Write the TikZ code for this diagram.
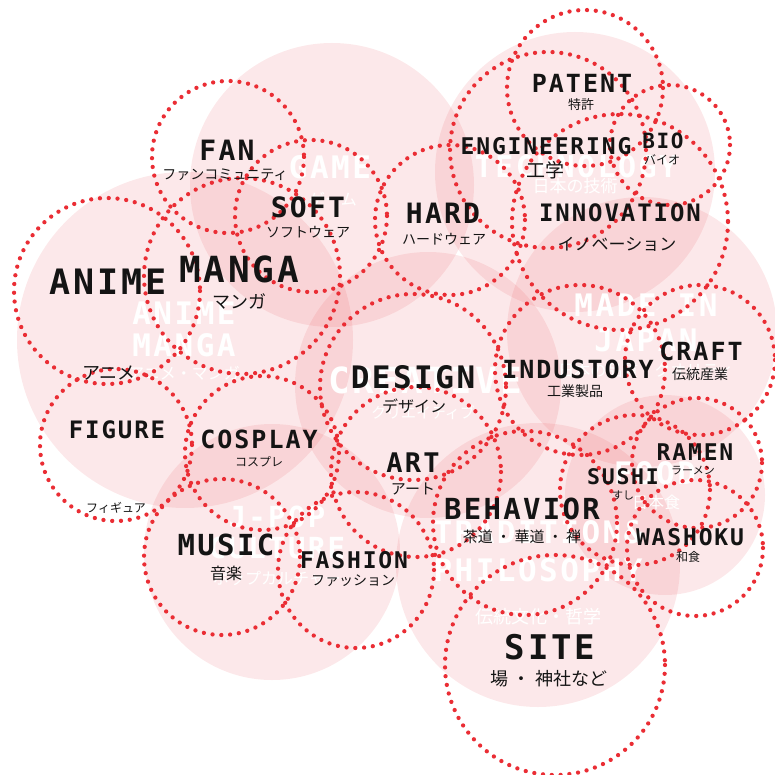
\documentclass[tikz,border=0pt]{standalone}
\usepackage{fontspec}
\newfontfamily\mono[LetterSpace=8]{DejaVu Sans Mono}
\newfontfamily\jp{Noto Sans CJK JP}
\definecolor{pinkc}{RGB}{228,50,62}
\definecolor{dotred}{RGB}{234,45,52}
\definecolor{ink}{RGB}{20,20,20}
\tikzset{
  bg/.style={fill=pinkc, fill opacity=0.11, draw=none},
  dc/.style={draw=dotred, line width=4.3pt, dash pattern=on 0pt off 8.8pt, line cap=round},
  en/.style={text=ink, inner sep=0, font=\mono\bfseries\fontsize{#1}{#1}\selectfont},
  ja/.style={text=ink, inner sep=0, font=\jp\fontsize{#1}{#1}\selectfont},
  wen/.style={text=white, inner sep=0, font=\mono\bfseries\fontsize{#1}{#1}\selectfont},
  wja/.style={text=white, inner sep=0, font=\jp\fontsize{#1}{#1}\selectfont},
}
\begin{document}
\begin{tikzpicture}[x=1pt,y=-1pt]
\useasboundingbox (0,0) rectangle (774,775);
% background category circles
\fill[bg] (185,340) circle (168);
\fill[bg] (332,185) circle (142);
\fill[bg] (575,172) circle (140);
\fill[bg] (642,332) circle (135);
\fill[bg] (428,385) circle (133);
\fill[bg] (272,552) circle (128);
\fill[bg] (538,565) circle (142);
\fill[bg] (665,495) circle (100);
% background white texts
\node[wen=31] (tAnime) at (184,313) {ANIME};
\node[wen=31] (tManga) at (184,345) {MANGA};
\node[wja=16] (tAnimeJ) at (184,373) {アニメ・マンガ};
\node[wen=31] (tGame) at (330,167) {GAME};
\node[wja=16] (tGameJ) at (333,199) {ゲーム};
\node[wen=30] (tTech) at (576,167) {TECHNOLOGY};
\node[wja=17] (tTechJ) at (575,186) {日本の技術};
\node[wen=31] (tMade) at (646,305) {MADE IN};
\node[wen=31] (tJapan) at (646,340) {JAPAN};
\node[wja=16] (tMadeJ) at (646,370) {日本の品質・クオリティ};
\node[wen=36] (tCreative) at (425,380) {CREATIVE};
\node[wja=15] (tCreativeJ) at (423,413) {クリエイティブ};
\node[wen=29] (tJpop) at (277,517) {J-POP};
\node[wen=29] (tCulture) at (277,548) {CULTURE};
\node[wja=16] (tCultureJ) at (277,578) {ポップカルチャー};
\node[wen=31] (tTrad) at (538,532) {TRADITION\&};
\node[wen=31] (tPhil) at (538,570) {PHILOSOPHY};
\node[wja=18] (tPhilJ) at (538,617) {伝統文化・哲学};
\node[wen=31] (tFood) at (655,473) {FOOD};
\node[wja=16] (tFoodJ) at (656,502) {日本食};
% dotted topic circles
\draw[dc] (585,88) circle (78);   % patent
\draw[dc] (548,150) circle (98);  % engineering
\draw[dc] (670,145) circle (60);  % bio
\draw[dc] (620,222) circle (108); % innovation
\draw[dc] (450,220) circle (75);  % hard
\draw[dc] (228,157) circle (76);  % fan
\draw[dc] (311,216) circle (76);  % soft
\draw[dc] (107,291) circle (93);  % anime
\draw[dc] (242,276) circle (98);  % manga
\draw[dc] (116,445) circle (76);  % figure
\draw[dc] (262,453) circle (77);  % cosplay
\draw[dc] (413,387) circle (93);  % design
\draw[dc] (416,472) circle (85);  % art
\draw[dc] (222,557) circle (78);  % music
\draw[dc] (356,570) circle (78);  % fashion
\draw[dc] (580,370) circle (85);  % industory
\draw[dc] (700,360) circle (75);  % craft
\draw[dc] (525,523) circle (92);  % behavior
\draw[dc] (635,490) circle (75);  % sushi
\draw[dc] (697,463) circle (65);  % ramen
\draw[dc] (695,548) circle (68);  % washoku
\draw[dc] (555,665) circle (110); % site
% labels
\node[en=25] (patent) at (582,83) {PATENT};
\node[ja=13] (patentJ) at (581,105) {特許};
\node[en=23] (eng) at (546,146) {ENGINEERING};
\node[ja=19] (engJ) at (545,170) {工学};
\node[en=21] (bio) at (663,141) {BIO};
\node[ja=12] (bioJ) at (662,160) {バイオ};
\node[en=24] (inno) at (620,213) {INNOVATION};
\node[ja=17] (innoJ) at (617,244) {イノベーション};
\node[en=28] (hard) at (443,213) {HARD};
\node[ja=14] (hardJ) at (444,239) {ハードウェア};
\node[en=28] (fan) at (227,150) {FAN};
\node[ja=14] (fanJ) at (225,175) {ファンコミュニティ};
\node[en=28] (soft) at (308,207) {SOFT};
\node[ja=14] (softJ) at (308,232) {ソフトウェア};
\node[en=35] (anime) at (108,282) {ANIME};
\node[ja=18] (animeJ) at (109,373) {アニメ};
\node[en=36] (manga) at (239,269) {MANGA};
\node[ja=18] (mangaJ) at (239,301) {マンガ};
\node[en=24] (figure) at (117,430) {FIGURE};
\node[ja=12] (figureJ) at (116,508) {フィギュア};
\node[en=25] (cosplay) at (259,439) {COSPLAY};
\node[ja=12] (cosplayJ) at (259,462) {コスプレ};
\node[en=31] (design) at (413,377) {DESIGN};
\node[ja=16] (designJ) at (414,406) {デザイン};
\node[en=27] (art) at (413,463) {ART};
\node[ja=15] (artJ) at (413,489) {アート};
\node[en=29] (music) at (226,545) {MUSIC};
\node[ja=16] (musicJ) at (226,573) {音楽};
\node[en=23] (fashion) at (354,560) {FASHION};
\node[ja=14] (fashionJ) at (353,581) {ファッション};
\node[en=25] (indus) at (578,369) {INDUSTORY};
\node[ja=14] (indusJ) at (575,391) {工業製品};
\node[en=25] (craft) at (701,351) {CRAFT};
\node[ja=14] (craftJ) at (700,374) {伝統産業};
\node[en=29] (behav) at (522,509) {BEHAVIOR};
\node[ja=15] (behavJ) at (522,537) {茶道 ・ 華道 ・ 禅};
\node[en=21.5] (sushi) at (623,477) {SUSHI};
\node[ja=11] (sushiJ) at (623,495) {すし};
\node[en=23] (ramen) at (695,452) {RAMEN};
\node[ja=11] (ramenJ) at (693,471) {ラーメン};
\node[en=23] (washoku) at (690,537) {WASHOKU};
\node[ja=12] (washokuJ) at (688,557) {和食};
\node[en=34] (site) at (550,647) {SITE};
\node[ja=18] (siteJ) at (549,679) {場 ・ 神社など};
\end{tikzpicture}
\end{document}
